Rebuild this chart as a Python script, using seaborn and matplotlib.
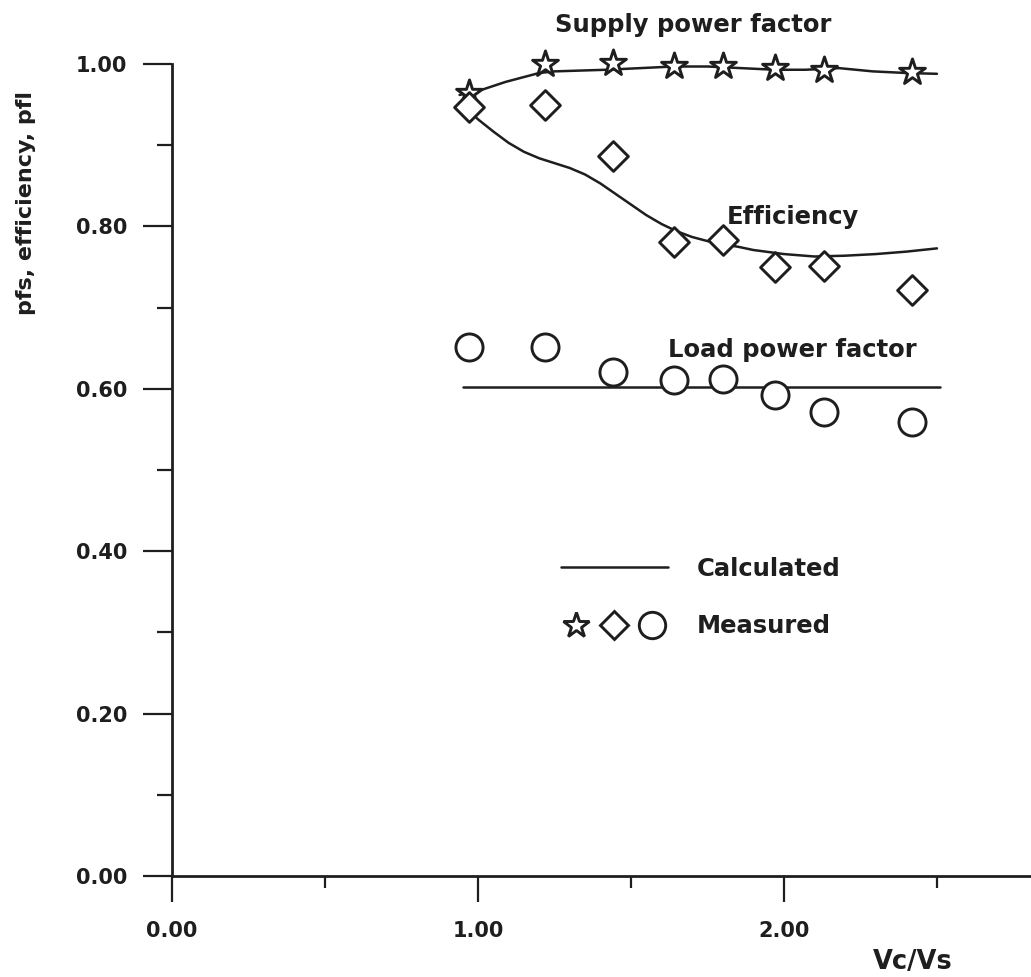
import numpy as np
import pandas as pd
import matplotlib
matplotlib.use("Agg")
import matplotlib.pyplot as plt
from matplotlib.lines import Line2D
from matplotlib.legend_handler import HandlerTuple
from matplotlib.ticker import MultipleLocator, FixedLocator, FormatStrFormatter
import seaborn as sns

# measured points (Vc/Vs) and the three quantities
vc_meas = [0.97, 1.22, 1.44, 1.64, 1.80, 1.97, 2.13, 2.42]
pfs_meas = [0.964, 1.000, 1.001, 0.998, 0.998, 0.995, 0.993, 0.990]
eff_meas = [0.947, 0.949, 0.887, 0.781, 0.783, 0.750, 0.751, 0.722]
pfl_meas = [0.652, 0.652, 0.621, 0.611, 0.612, 0.592, 0.572, 0.559]

# calculated curves
vc_pfs_calc = [0.94, 1.01, 1.09, 1.20, 1.25, 1.42, 1.53, 1.64, 1.75, 1.86,
               1.97, 2.07, 2.18, 2.29, 2.40, 2.50]
pfs_calc = [0.962, 0.968, 0.978, 0.989, 0.991, 0.993, 0.995, 0.997, 0.997, 0.995,
            0.993, 0.993, 0.995, 0.991, 0.989, 0.988]

vc_eff_calc = [0.95, 0.97, 1.00, 1.05, 1.10, 1.15, 1.20, 1.25, 1.30, 1.35,
               1.40, 1.45, 1.50, 1.55, 1.60, 1.65, 1.70, 1.75, 1.80, 1.85,
               1.90, 2.00, 2.10, 2.20, 2.30, 2.40, 2.50]
eff_calc = [0.950, 0.943, 0.932, 0.917, 0.903, 0.892, 0.884, 0.878, 0.872, 0.864,
            0.853, 0.840, 0.827, 0.814, 0.803, 0.794, 0.787, 0.782, 0.778, 0.775,
            0.771, 0.766, 0.763, 0.764, 0.766, 0.769, 0.773]

vc_pfl_calc = [0.95, 2.51]
pfl_calc = [0.602, 0.602]

x_major = [0.0, 1.0, 2.0]
x_minor = [0.5, 1.5, 2.5]
x_ticklabels = ["0.00", "1.00", "2.00"]

sns.set_style("ticks")
plt.rcParams["font.family"] = ["DejaVu Sans"]
plt.rcParams["font.weight"] = "bold"

INK = "#1e1e1e"

fig = plt.figure(figsize=(10.31, 9.77), dpi=100)
ax = fig.add_axes([0.1371, 0.0701, 0.8637, 0.9225])

line_kw = dict(color=INK, linewidth=1.8, sort=False, legend=False)
sns.lineplot(x=vc_pfs_calc, y=pfs_calc, ax=ax, **line_kw)
sns.lineplot(x=vc_eff_calc, y=eff_calc, ax=ax, **line_kw)
sns.lineplot(x=vc_pfl_calc, y=pfl_calc, ax=ax, **line_kw)

mk_kw = dict(color="white", edgecolor=INK, linewidth=2.1, legend=False, zorder=3)
sns.scatterplot(x=vc_meas, y=pfs_meas, marker="*", s=380, ax=ax, **mk_kw)
sns.scatterplot(x=vc_meas, y=eff_meas, marker="D", s=230, ax=ax, **mk_kw)
sns.scatterplot(x=vc_meas, y=pfl_meas, marker="o", s=380, ax=ax, **mk_kw)

ax.set_xlim(-0.1, 2.81)
ax.set_ylim(-0.04, 1.07)

for side in ["top", "right"]:
    ax.spines[side].set_visible(False)
ax.spines["left"].set_position(("data", 0))
ax.spines["bottom"].set_position(("data", 0))
ax.spines["left"].set_bounds(0, 1.0)
ax.spines["bottom"].set_bounds(0, 2.81)
for side in ["left", "bottom"]:
    ax.spines[side].set_linewidth(2.0)
    ax.spines[side].set_color(INK)

ax.xaxis.set_major_locator(FixedLocator(x_major))
ax.xaxis.set_minor_locator(FixedLocator(x_minor))
ax.set_xticklabels(x_ticklabels)
ax.yaxis.set_major_locator(MultipleLocator(0.2))
ax.yaxis.set_minor_locator(MultipleLocator(0.1))
ax.yaxis.set_major_formatter(FormatStrFormatter("%.2f"))

ax.tick_params(axis="x", which="major", direction="out", length=18.7, width=1.6,
               color=INK, pad=14, labelsize=15, labelcolor=INK)
ax.tick_params(axis="x", which="minor", direction="out", length=8.6, width=1.6, color=INK)
ax.tick_params(axis="y", which="major", direction="out", length=20.9, width=1.6,
               color=INK, pad=11.5, labelsize=15, labelcolor=INK)
ax.tick_params(axis="y", which="minor", direction="out", length=10.8, width=1.6, color=INK)

ax.set_ylabel("pfs, efficiency, pfl", fontsize=16, fontweight="bold", color=INK)
ax.yaxis.set_label_coords(-0.1296, 0.7828)
ax.yaxis.label.set_va("center")
ax.set_xlabel("Vc/Vs", fontsize=18.5, fontweight="bold", color=INK)
ax.xaxis.set_label_coords(0.866, -0.0594)
ax.xaxis.label.set_va("center")

txt_kw = dict(fontsize=17.5, fontweight="bold", color=INK, ha="left", va="baseline")
ax.text(1.252, 1.039, "Supply power factor", **txt_kw)
ax.text(1.814, 0.803, "Efficiency", **txt_kw)
ax.text(1.621, 0.639, "Load power factor", **txt_kw)

h_line = Line2D([], [], color=INK, linewidth=1.8)
h_star = Line2D([], [], linestyle="none", marker="*", markersize=19,
                markerfacecolor="white", markeredgecolor=INK, markeredgewidth=2.1)
h_dia = Line2D([], [], linestyle="none", marker="D", markersize=14.5,
               markerfacecolor="white", markeredgecolor=INK, markeredgewidth=2.1)
h_circ = Line2D([], [], linestyle="none", marker="o", markersize=19,
                markerfacecolor="white", markeredgecolor=INK, markeredgewidth=2.1)
leg = ax.legend([h_line, (h_star, h_dia, h_circ)], ["Calculated", "Measured"],
                handler_map={tuple: HandlerTuple(ndivide=None, pad=0.3)},
                loc="upper left", bbox_to_anchor=(1.27, 0.393),
                bbox_transform=ax.transData, frameon=False,
                fontsize=17.5, handlelength=4.4, handletextpad=1.2,
                labelspacing=1.37, borderpad=0, borderaxespad=0)
for t in leg.get_texts():
    t.set_color(INK)
    t.set_fontweight("bold")

fig.savefig("out.png", dpi=100, facecolor="white")
